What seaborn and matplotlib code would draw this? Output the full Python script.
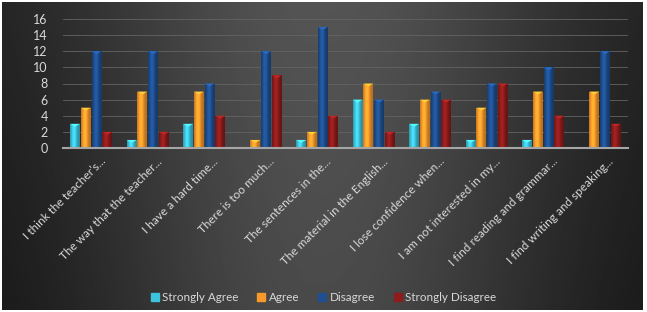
import numpy as np
import pandas as pd
import matplotlib
matplotlib.use('Agg')
import matplotlib.pyplot as plt
import seaborn as sns
from matplotlib.colors import to_rgb
import matplotlib.transforms as mtransforms

# survey statements (truncated as in the original chart)
statements = [
    'I think the teacher\u2019s...',
    'The way that the teacher...',
    'I have a hard time...',
    'There is too much...',
    'The sentences in the...',
    'The material in the English...',
    'I lose confidence when...',
    'I am not interested in my...',
    'I find reading and grammar...',
    'I find writing and speaking...',
]
responses = ['Strongly Agree', 'Agree', 'Disagree', 'Strongly Disagree']
strongly_agree = [3, 1, 3, 0, 1, 6, 3, 1, 1, 0]
agree = [5, 7, 7, 1, 2, 8, 6, 5, 7, 7]
disagree = [12, 12, 8, 12, 15, 6, 7, 8, 10, 12]
strongly_disagree = [2, 2, 4, 9, 4, 2, 6, 8, 4, 3]
colors = ['#3ec3dc', '#f79a2b', '#1f4f8f', '#8e1c1c']

df = pd.DataFrame({
    'statement': statements,
    'Strongly Agree': strongly_agree,
    'Agree': agree,
    'Disagree': disagree,
    'Strongly Disagree': strongly_disagree,
}).melt(id_vars='statement', var_name='response', value_name='count')

plt.rcParams['font.family'] = ['Lato', 'DejaVu Sans']
txt_col = '#d9d9d9'

fig = plt.figure(figsize=(6.47, 3.12), dpi=100, facecolor='white')

# dark gradient panel behind the chart
bg = fig.add_axes([2 / 647, 2 / 312, 641 / 647, 308 / 312], zorder=-1)
xx = np.linspace(0, 1, 300)
yy = np.linspace(0, 1, 150)
X, Y = np.meshgrid(xx, yy)
shade = 0.11 + 0.22 * np.exp(-((X - 0.5) / 0.38) ** 2) - 0.04 * (1 - Y)
bg.imshow(shade, cmap='gray', vmin=0, vmax=1, aspect='auto', extent=[0, 1, 0, 1], origin='lower')
bg.axis('off')

ax = fig.add_axes([63 / 647, 164 / 312, 565 / 647, 129 / 312])
ax.set_facecolor('none')
sns.barplot(data=df, x='statement', y='count', hue='response', hue_order=responses,
            palette=colors, width=0.76, gap=0.08, ax=ax, legend=False, saturation=1)

# cylinder-like shading on each bar
for cont, c in zip(ax.containers, colors):
    base = np.array(to_rgb(c))
    t = np.linspace(0, 1, 32)
    f = 0.72 + 0.45 * np.exp(-((t - 0.4) / 0.3) ** 2)
    grad = np.clip(base[None, :] * f[:, None], 0, 1)[None, :, :]
    for bar in cont:
        h = bar.get_height()
        if h <= 0:
            continue
        x0, w = bar.get_x(), bar.get_width()
        im = ax.imshow(grad, extent=[x0, x0 + w, 0, h], aspect='auto', zorder=3)
        im.set_clip_path(bar)
        ax.fill([x0, x0 + w, x0 + w / 2], [h, h, h - 0.35], color=np.clip(base * 1.35, 0, 1), zorder=4, lw=0)

ax.set_ylim(0, 16)
ax.set_xlim(-0.5, 9.5)
ax.set_yticks(range(0, 17, 2))
ax.grid(axis='y', color='#636363', lw=0.6)
ax.set_axisbelow(True)
for s in ['top', 'right', 'left']:
    ax.spines[s].set_visible(False)
ax.spines['bottom'].set_color('#a6a6a6')
ax.spines['bottom'].set_linewidth(1.5)
ax.spines['bottom'].set_zorder(5)
ax.tick_params(length=0, colors=txt_col, labelsize=9)
ax.tick_params(axis='y', pad=11)
ax.set_xlabel('')
ax.set_ylabel('')
ax.set_xticks(range(len(statements)))
ax.set_xticklabels(statements, rotation=45, ha='right', va='top', rotation_mode='anchor',
                   color=txt_col, fontsize=8.5)
shift = mtransforms.ScaledTranslation(6 / 72, -2 / 72, fig.dpi_scale_trans)
for lab in ax.get_xticklabels():
    lab.set_transform(lab.get_transform() + shift)

handles = [plt.Rectangle((0, 0), 1, 1, color=c) for c in colors]
leg = fig.legend(handles, responses, loc='lower center', bbox_to_anchor=(0.5, -0.005), ncol=4,
                 frameon=False, handlelength=0.7, handleheight=0.7, handletextpad=0.3,
                 columnspacing=1.6, fontsize=8.4)
for t in leg.get_texts():
    t.set_color(txt_col)

fig.savefig('out.png', dpi=100, facecolor='white')
